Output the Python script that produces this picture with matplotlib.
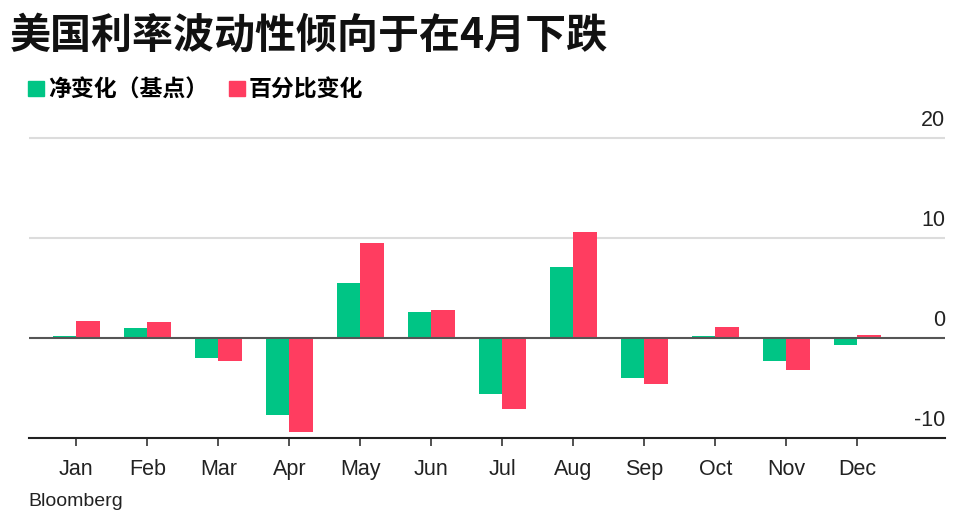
import numpy as np
import matplotlib
matplotlib.use("Agg")
import matplotlib.pyplot as plt
import matplotlib.transforms as mtransforms
from matplotlib.patches import Rectangle

CJK = ["Noto Sans CJK SC", "DejaVu Sans"]
LATIN = ["Liberation Sans", "DejaVu Sans"]

GREEN = "#00c585"
RED = "#ff3d60"

months = ["Jan", "Feb", "Mar", "Apr", "May", "Jun",
          "Jul", "Aug", "Sep", "Oct", "Nov", "Dec"]
# net change (bp)
net_change = [0.2, 1.0, -2.0, -7.75, 5.45, 2.6,
              -5.65, 7.1, -4.0, 0.2, -2.35, -0.7]
# percent change
pct_change = [1.7, 1.55, -2.35, -9.4, 9.5, 2.75,
              -7.15, 10.55, -4.6, 1.1, -3.25, 0.3]
y_ticks = [-10, 0, 10, 20]
series_labels = ["净变化（基点）", "百分比变化"]

plt.rcParams["font.family"] = LATIN

fig = plt.figure(figsize=(9.6, 5.2), dpi=100)
ax = fig.add_axes([29 / 960, 1 - 437.5 / 520, 916 / 960, 320 / 520])

x = np.arange(len(months))
w = 0.335
ax.bar(x - w / 2, net_change, width=w, color=GREEN, zorder=3)
ax.bar(x + w / 2, pct_change, width=w, color=RED, zorder=3)

ax.set_xlim(-0.666, 12.235)
ax.set_ylim(-10, 22)

for v in (10, 20):
    ax.axhline(v, color="#dcdcdc", lw=1.5, zorder=1)
ax.axhline(0, color="#555555", lw=1.5, zorder=4)

for s in ("top", "left", "right"):
    ax.spines[s].set_visible(False)
ax.spines["bottom"].set_color("#222222")
ax.spines["bottom"].set_linewidth(1.5)

ax.set_xticks(x)
ax.set_xticklabels(months)
ax.tick_params(axis="x", direction="out", length=6, width=1.2,
               color="#333333", pad=9.5, labelsize=15.5, labelcolor="#222222")

ax.yaxis.tick_right()
ax.set_yticks(y_ticks)
ax.set_yticklabels([str(t) for t in y_ticks])
ax.tick_params(axis="y", length=0, pad=0, labelsize=15.5, labelcolor="#222222")
offset = mtransforms.ScaledTranslation(0, 11 / 100, fig.dpi_scale_trans)
for lab in ax.get_yticklabels():
    lab.set_horizontalalignment("right")
    lab.set_verticalalignment("baseline")
    lab.set_transform(lab.get_transform() + offset)

fig.text(10 / 960, 1 - 36 / 520, "美国利率波动性倾向于在4月下跌",
         family=CJK, fontsize=29.5, fontweight="bold", va="center",
         color="#111111")

handles = [Rectangle((0, 0), 1, 1, color=GREEN),
           Rectangle((0, 0), 1, 1, color=RED)]
fig.legend(handles, series_labels, loc="center left",
           bbox_to_anchor=(28 / 960, 1 - 90 / 520), ncol=2, frameon=False,
           prop={"family": CJK, "size": 16.5, "weight": "bold"},
           handlelength=0.68, handleheight=0.68, handletextpad=0.2,
           columnspacing=0.9, borderaxespad=0, borderpad=0)

fig.text(28 / 960, 1 - 501 / 520, "Bloomberg", fontsize=14,
         va="center", color="#222222")

fig.savefig("out.png", dpi=100)
